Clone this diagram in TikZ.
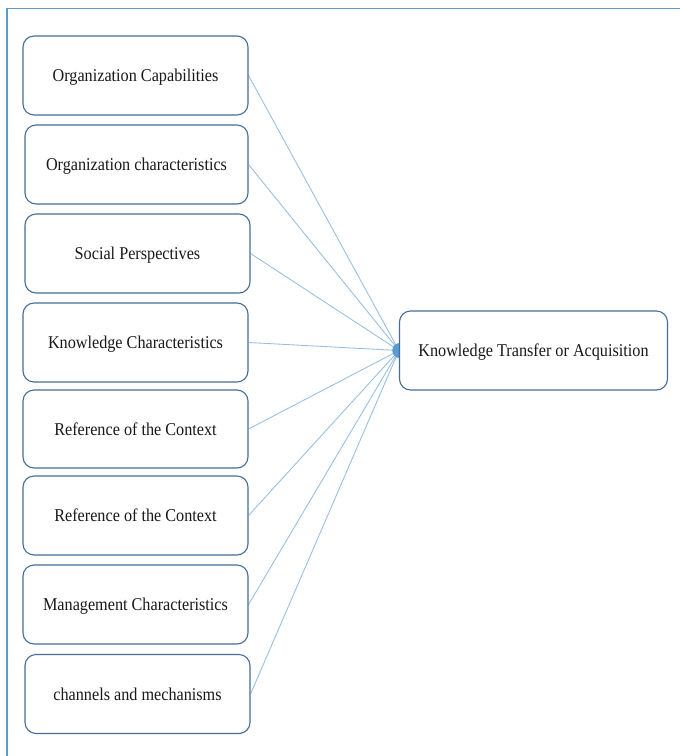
\documentclass[tikz,border=0pt]{standalone}
\usepackage{fontspec}
\setmainfont{Liberation Serif}[FakeStretch=0.9]
\usetikzlibrary{backgrounds}
\definecolor{framec}{RGB}{91,155,213}
\definecolor{boxc}{RGB}{72,110,150}
\definecolor{linec}{RGB}{150,190,228}
\definecolor{dotc}{RGB}{91,155,213}
\begin{document}
\begin{tikzpicture}[x=1pt,y=-1pt,
  box/.style={draw=boxc, line width=1.1pt, rounded corners=11pt, fill=white,
    font=\fontsize{18}{20}\selectfont, text=black!90, inner sep=0pt, text depth=0pt},
  conn/.style={draw=linec, line width=0.85pt}]
\useasboundingbox (0,0) rectangle (680,756);
\draw[framec, line width=1.4pt] (7,756) -- (7,8.5) -- (680,8.5);
% left boxes
\node[box, minimum width=225pt, minimum height=79pt] (b1) at (135.5,75.5) {Organization Capabilities};
\node[box, minimum width=223pt, minimum height=79pt] (b2) at (136.5,164.5) {Organization characteristics};
\node[box, minimum width=225pt, minimum height=79pt] (b3) at (137.5,253.5) {Social Perspectives};
\node[box, minimum width=225pt, minimum height=79pt] (b4) at (135.5,342.5) {Knowledge Characteristics};
\node[box, minimum width=225pt, minimum height=78pt] (b5) at (135.5,429) {Reference of the Context};
\node[box, minimum width=225pt, minimum height=79pt] (b6) at (135.5,515.5) {Reference of the Context};
\node[box, minimum width=225pt, minimum height=79pt] (b7) at (135.5,604.5) {Management Characteristics};
\node[box, minimum width=225pt, minimum height=79pt] (b8) at (137.5,694) {channels and mechanisms};
% target
\node[box, minimum width=268pt, minimum height=79pt] (t) at (533.5,350.5) {Knowledge Transfer or Acquisition};
\coordinate (hub) at (t.west);
\begin{scope}[on background layer]
  \fill[white] (0,0) rectangle (680,756);
  \foreach \b in {b1,b2,b3,b4,b5,b6,b7,b8}{
    \draw[conn] (\b.east) -- (hub);
  }
  \fill[dotc] ([xshift=0.8pt]hub) circle[radius=7.5pt];
\end{scope}
\end{tikzpicture}
\end{document}
